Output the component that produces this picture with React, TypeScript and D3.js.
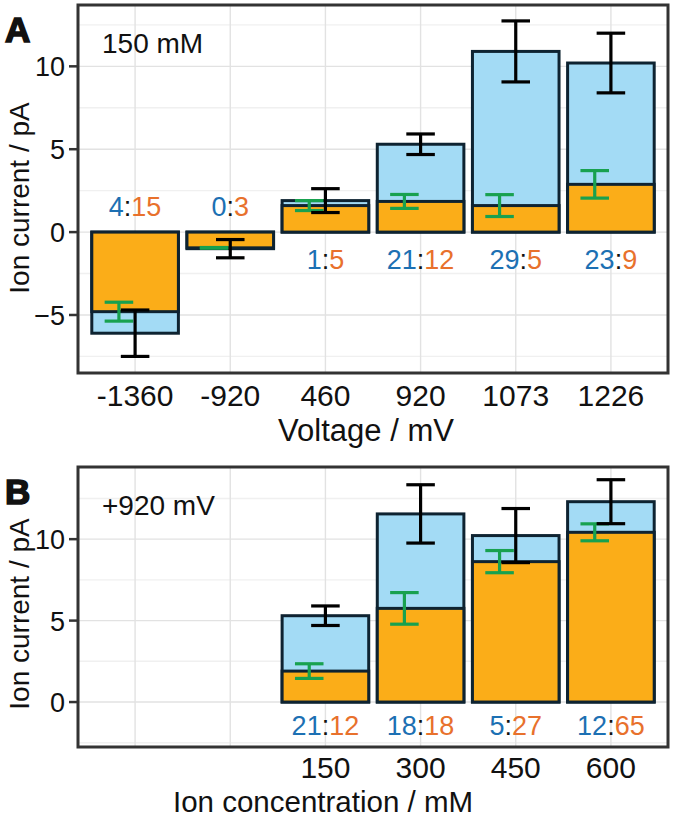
import React from "react";
import * as d3 from "d3";

// ---------- Panel A data (150 mM) ----------
const voltages = ["-1360", "-920", "460", "920", "1073", "1226"];
const voltTotal = [-6.1, -1.0, 1.9, 5.3, 10.9, 10.2];
const voltTotalErr = [1.4, 0.55, 0.72, 0.62, 1.84, 1.8];
const voltOrange = [-4.8, -0.95, 1.6, 1.85, 1.6, 2.88];
const voltOrangeErr = [0.57, 0.02, 0.3, 0.42, 0.66, 0.83];
const voltBlueN = [4, 0, 1, 21, 29, 23];
const voltOrangeN = [15, 3, 5, 12, 5, 9];

// ---------- Panel B data (+920 mV) ----------
const concSlots = ["_a", "_b", "150", "300", "450", "600"];
const concs = ["150", "300", "450", "600"];
const concTotal = [5.3, 11.55, 10.22, 12.3];
const concTotalErr = [0.6, 1.79, 1.66, 1.35];
const concOrange = [1.9, 5.75, 8.62, 10.42];
const concOrangeErr = [0.45, 0.97, 0.68, 0.52];
const concBlueN = [21, 18, 5, 12];
const concOrangeN = [12, 18, 27, 65];

const yTicksA = [-5, 0, 5, 10];
const yMinorA = [-7.5, -2.5, 2.5, 7.5, 12.5];
const yTicksB = [0, 5, 10];
const yMinorB = [-2.5, 2.5, 7.5, 12.5];

const FONT = "'Liberation Sans', Arial, Helvetica, sans-serif";
const BLUE_FILL = "#a3dbf5";
const ORANGE_FILL = "#fbad18";
const OUTLINE = "#0e2331";
const GREEN = "#18a14f";
const BLUE_TXT = "#1c70b3";
const ORANGE_TXT = "#e8712c";

type PanelProps = {
  slots: string[];
  cats: string[];
  total: number[];
  totalErr: number[];
  orange: number[];
  orangeErr: number[];
  nBlue: number[];
  nOrange: number[];
  yDomain: [number, number];
  top: number;
  bottom: number;
  yTicks: number[];
  yMinor: number[];
  letter: string;
  inset: string;
  xTitle: string;
  xTitleX: number;
  xTitleOffset: number;
  xTitleSize: number;
  tickOffset: number;
  yTitleY: number;
  labelBelow: number;
};

const LEFT = 78;
const RIGHT = 668;

function Panel(p: PanelProps) {
  const x = d3.scalePoint<string>().domain(p.slots).range([LEFT, RIGHT]).padding(0.6);
  const step = x.step();
  const bw = step * 0.91;
  const cap = step * 0.15;
  const gOff = step * 0.17;
  const y = d3.scaleLinear().domain(p.yDomain).range([p.bottom, p.top]);
  const y0 = y(0);
  const tickFmt = (s: string) => (s.startsWith("_") ? "" : s);

  const errBar = (cx: number, m: number, e: number, color: string, key: string) => (
    <g key={key} stroke={color} strokeWidth={3.2} fill="none">
      <line x1={cx} x2={cx} y1={y(m - e)} y2={y(m + e)} />
      <line x1={cx - cap} x2={cx + cap} y1={y(m + e)} y2={y(m + e)} />
      <line x1={cx - cap} x2={cx + cap} y1={y(m - e)} y2={y(m - e)} />
    </g>
  );

  return (
    <g>
      <rect x={LEFT} y={p.top} width={RIGHT - LEFT} height={p.bottom - p.top} fill="#fff" />
      {p.yMinor.map((v) => (
        <line key={"mi" + v} x1={LEFT} x2={RIGHT} y1={y(v)} y2={y(v)} stroke="#f0f0f0" strokeWidth={1.4} />
      ))}
      {p.yTicks.map((v) => (
        <line key={"ma" + v} x1={LEFT} x2={RIGHT} y1={y(v)} y2={y(v)} stroke="#e2e2e2" strokeWidth={1.4} />
      ))}
      {p.slots.map((s) => (
        <line key={"gx" + s} x1={x(s)!} x2={x(s)!} y1={p.top} y2={p.bottom} stroke="#e2e2e2" strokeWidth={1.4} />
      ))}
      {p.cats.map((c, i) => {
        const cx = x(c)!;
        const t = p.total[i];
        const o = p.orange[i];
        return (
          <g key={"bar" + c}>
            <rect x={cx - bw / 2} y={Math.min(y(t), y0)} width={bw} height={Math.abs(y(t) - y0)}
              fill={BLUE_FILL} stroke={OUTLINE} strokeWidth={3} />
            <rect x={cx - bw / 2} y={Math.min(y(o), y0)} width={bw} height={Math.abs(y(o) - y0)}
              fill={ORANGE_FILL} stroke={OUTLINE} strokeWidth={3} />
          </g>
        );
      })}
      {p.cats.map((c, i) => errBar(x(c)! - gOff, p.orange[i], p.orangeErr[i], GREEN, "ge" + c))}
      {p.cats.map((c, i) => errBar(x(c)!, p.total[i], p.totalErr[i], "#000", "be" + c))}
      {p.cats.map((c, i) => {
        const neg = p.total[i] < 0;
        return (
          <text key={"n" + c} x={x(c)!} y={neg ? y0 - 16 : y0 + p.labelBelow} textAnchor="middle"
            fontFamily={FONT} fontSize={27}>
            <tspan fill={BLUE_TXT}>{p.nBlue[i]}</tspan>
            <tspan fill="#111">:</tspan>
            <tspan fill={ORANGE_TXT}>{p.nOrange[i]}</tspan>
          </text>
        );
      })}
      <rect x={LEFT} y={p.top} width={RIGHT - LEFT} height={p.bottom - p.top} fill="none" stroke="#333" strokeWidth={3} />
      {p.yTicks.map((v) => (
        <g key={"yt" + v}>
          <line x1={LEFT - 9} x2={LEFT} y1={y(v)} y2={y(v)} stroke="#333" strokeWidth={2.5} />
          <text x={LEFT - 13} y={y(v) + 10} textAnchor="end" fontFamily={FONT} fontSize={27} fill="#111">
            {v < 0 ? "\u2212" + Math.abs(v) : v}
          </text>
        </g>
      ))}
      {p.slots.map((s) => (
        <text key={"xt" + s} x={x(s)!} y={p.bottom + p.tickOffset} textAnchor="middle" fontFamily={FONT} fontSize={30} fill="#111">
          {tickFmt(s)}
        </text>
      ))}
      <text x={p.xTitleX} y={p.bottom + p.xTitleOffset} textAnchor="middle" fontFamily={FONT} fontSize={p.xTitleSize} fill="#111">
        {p.xTitle}
      </text>
      <text transform={`translate(29,${p.yTitleY}) rotate(-90)`} textAnchor="middle" fontFamily={FONT} fontSize={28} fill="#111">
        Ion current / pA
      </text>
      <text x={102} y={p.top + 48} fontFamily={FONT} fontSize={28} fill="#111">
        {p.inset}
      </text>
      <text x={5} y={p.top + 37} fontFamily={FONT} fontSize={35} fontWeight={900} fill="#111" stroke="#111" strokeWidth={1.6}>
        {p.letter}
      </text>
    </g>
  );
}

export default function App() {
  return (
    <div style={{ position: "absolute", left: 0, top: 0 }}>
      <svg width={675} height={820} viewBox="0 0 675 820" style={{ display: "block", background: "#fff" }}>
        <Panel
          slots={voltages}
          cats={voltages}
          total={voltTotal}
          totalErr={voltTotalErr}
          orange={voltOrange}
          orangeErr={voltOrangeErr}
          nBlue={voltBlueN}
          nOrange={voltOrangeN}
          yDomain={[-8.5, 13.7]}
          top={5}
          bottom={373}
          yTicks={yTicksA}
          yMinor={yMinorA}
          letter="A"
          inset="150 mM"
          xTitle="Voltage / mV"
          xTitleX={366}
          xTitleOffset={68}
          xTitleSize={31}
          tickOffset={32.5}
          yTitleY={198}
          labelBelow={37}
        />
        <Panel
          slots={concSlots}
          cats={concs}
          total={concTotal}
          totalErr={concTotalErr}
          orange={concOrange}
          orangeErr={concOrangeErr}
          nBlue={concBlueN}
          nOrange={concOrangeN}
          yDomain={[-2.76, 14.43]}
          top={467}
          bottom={747}
          yTicks={yTicksB}
          yMinor={yMinorB}
          letter="B"
          inset="+920 mV"
          xTitle="Ion concentration / mM"
          xTitleX={323}
          xTitleOffset={64.5}
          xTitleSize={29.5}
          tickOffset={31}
          yTitleY={614}
          labelBelow={33}
        />
      </svg>
    </div>
  );
}
